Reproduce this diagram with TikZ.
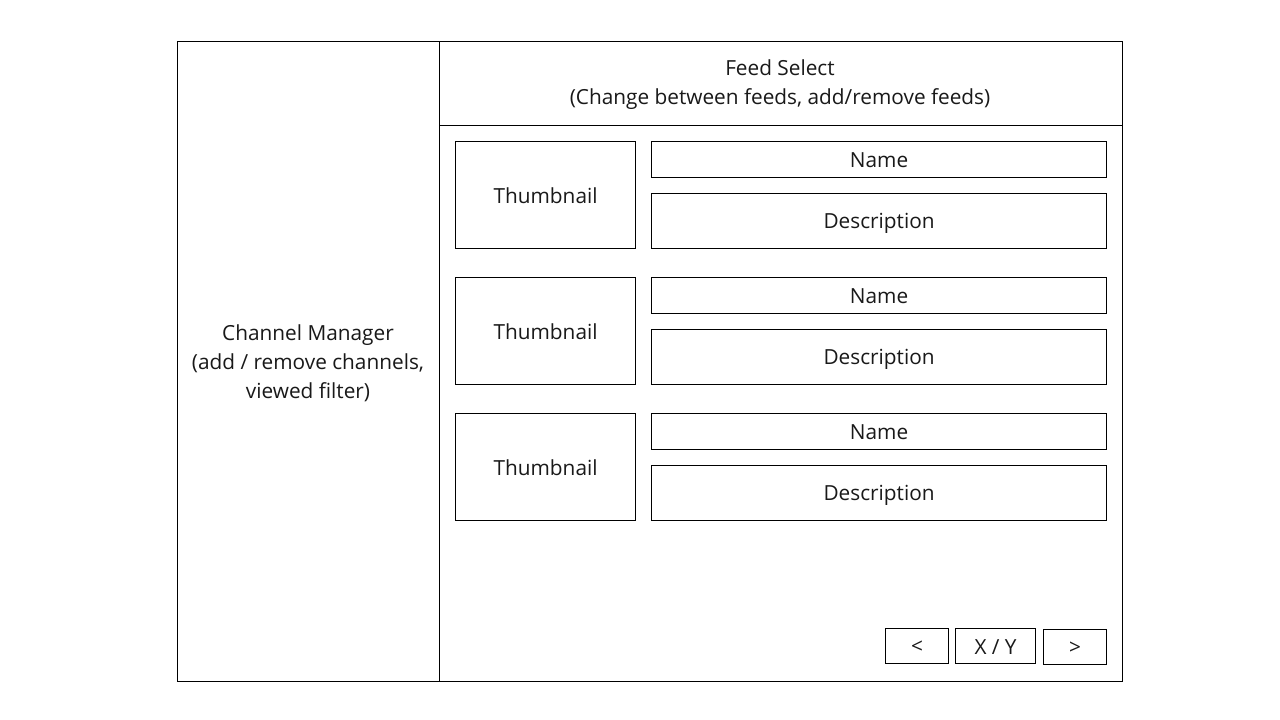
\documentclass[tikz,border=0pt]{standalone}
\usepackage{fontspec}
\setmainfont{Open Sans}
\begin{document}
\begin{tikzpicture}[x=1pt,y=-1pt,
  box/.style={draw=black,line width=1.2pt,inner sep=0pt},
  lbl/.style={font=\fontsize{20.8}{29}\selectfont,align=center,text=black!90,yshift=-1pt}]
\useasboundingbox[fill=white] (0,0) rectangle (1280,720);
% outer frame
\node[box,minimum width=262pt,minimum height=640pt,anchor=north west] (cm) at (177,41) {};
\node[box,minimum width=683pt,minimum height=84pt,anchor=north west] (fs) at (439,41) {};
\node[box,minimum width=683pt,minimum height=556pt,anchor=north west] (list) at (439,125) {};
\node[lbl] (cmt) at (308,362) {Channel Manager\\(add / remove channels,\\viewed filter)};
\node[lbl] (fst) at (780,84) {Feed Select\\(Change between feeds, add/remove feeds)};
% items
\foreach \i/\y in {1/141,2/277,3/413}{
  \node[box,minimum width=180pt,minimum height=107pt,anchor=north west] (th\i) at (455,\y) {};
  \node[lbl] at (th\i.center) {Thumbnail};
  \node[box,minimum width=455pt,minimum height=36pt,anchor=north west] (nm\i) at (651,\y) {};
  \node[lbl] at (nm\i.center) {Name};
  \node[box,minimum width=455pt,minimum height=55pt,anchor=north west] (ds\i) at (651,\y+52) {};
  \node[lbl,yshift=-1pt] at (ds\i.center) {Description};
}
% pager
\node[box,minimum width=63pt,minimum height=35pt,anchor=north west] (prev) at (885,628) {};
\node[lbl] at (prev.center) {<};
\node[box,minimum width=80pt,minimum height=35pt,anchor=north west] (pg) at (955,628) {};
\node[lbl] at (pg.center) {X / Y};
\node[box,minimum width=63pt,minimum height=35pt,anchor=north west] (next) at (1043,629) {};
\node[lbl] at (next.center) {>};
\end{tikzpicture}
\end{document}
